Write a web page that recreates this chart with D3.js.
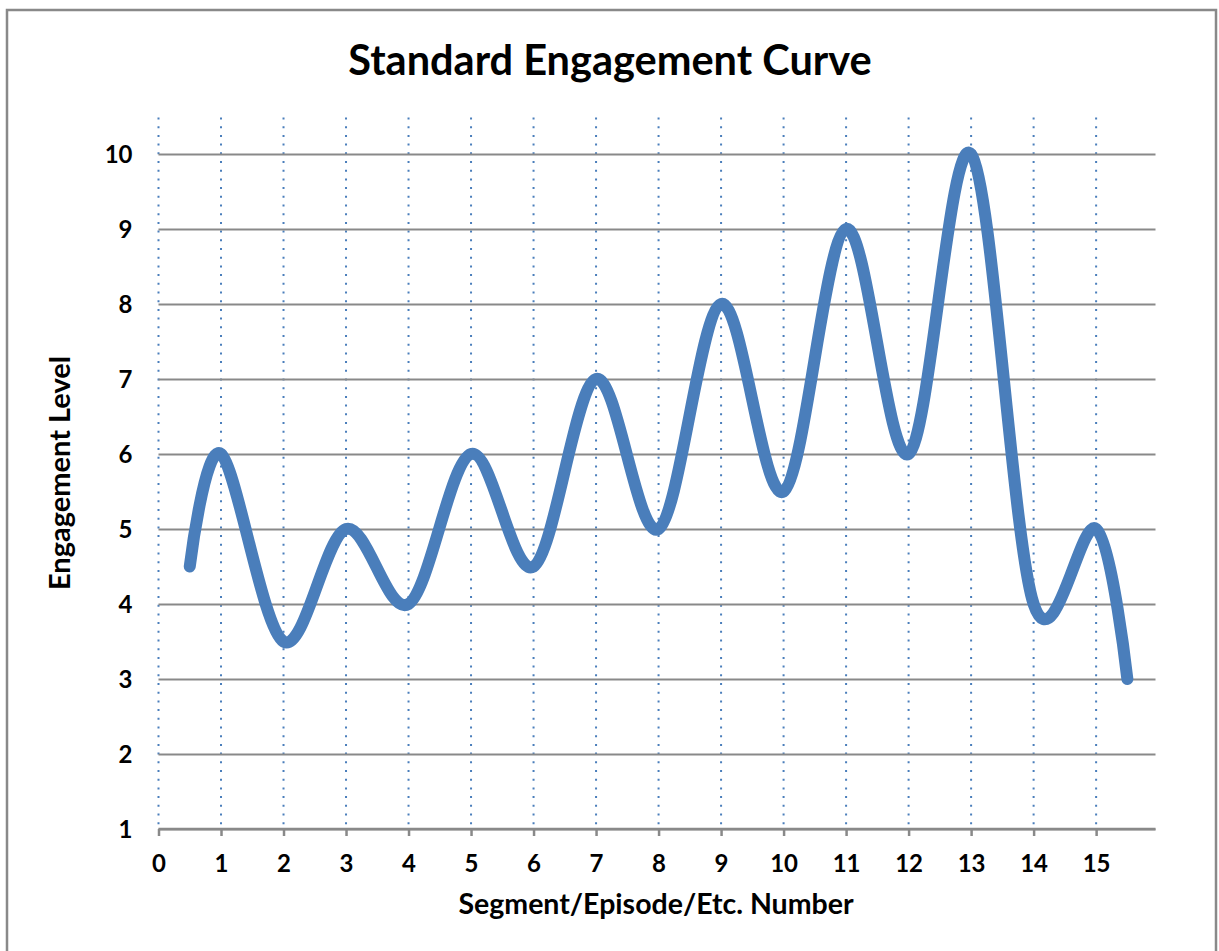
<!DOCTYPE html>
<meta charset="utf-8">
<style>
  body { margin: 0; background: #fff; }
  text { font-family: Lato, "Open Sans", sans-serif; font-weight: bold; fill: #000; }
  .axis path { display: none; }
  .grid line { stroke: #898989; stroke-width: 2; }
  .vgrid line { stroke: #4a7ebb; stroke-width: 2; stroke-dasharray: 2 6.7; }
</style>
<svg width="1219" height="951"></svg>
<script src="https://cdnjs.cloudflare.com/ajax/libs/d3/7.8.5/d3.min.js"></script>
<script>
  // data
  var segments = [0.5, 1, 2, 3, 4, 5, 6, 7, 8, 9, 10, 11, 12, 13, 14, 15, 15.5];
  var engagement = [4.5, 6, 3.5, 5, 4, 6, 4.5, 7, 5, 8, 5.5, 9, 6, 10, 4, 5, 3];
  var xTicks = [0, 1, 2, 3, 4, 5, 6, 7, 8, 9, 10, 11, 12, 13, 14, 15];
  var yTicks = [1, 2, 3, 4, 5, 6, 7, 8, 9, 10];

  var svg = d3.select("svg");

  // chart border
  svg.append("rect")
    .attr("x", 7).attr("y", 10)
    .attr("width", 1209).attr("height", 960)
    .attr("fill", "none")
    .attr("stroke", "#898989")
    .attr("stroke-width", 2.5);

  var x = d3.scaleLinear().domain([0, 15.95]).range([158.5, 1155.5]);
  var y = d3.scaleLinear().domain([1, 10.5]).range([829, 116.5]);

  // dotted vertical gridlines
  svg.append("g")
    .attr("class", "vgrid")
    .selectAll("line")
    .data(xTicks)
    .enter().append("line")
    .attr("x1", function(d) { return x(d); })
    .attr("x2", function(d) { return x(d); })
    .attr("y1", y(10.5) + 1)
    .attr("y2", y(1));

  // horizontal gridlines + y labels
  var yAxis = svg.append("g")
    .attr("class", "axis grid")
    .attr("transform", "translate(" + x(0) + ",0)")
    .call(d3.axisLeft(y)
      .tickValues(yTicks)
      .tickSize(-(x(15.95) - x(0)))
      .tickPadding(26)
      .tickFormat(d3.format("d")));
  yAxis.selectAll("text")
    .style("font-size", "24px")
    .attr("dy", "0.34em");

  // x axis
  var xAxis = svg.append("g")
    .attr("class", "axis xaxis")
    .attr("transform", "translate(0," + y(1) + ")")
    .call(d3.axisBottom(x)
      .tickValues(xTicks)
      .tickSize(7)
      .tickFormat(d3.format("d")));
  xAxis.selectAll("line").attr("stroke", "#898989").attr("stroke-width", 2.5);
  xAxis.selectAll("text")
    .style("font-size", "24px")
    .attr("y", 43)
    .attr("dy", null);
  xAxis.append("line")
    .attr("x1", x(0)).attr("x2", x(15.95))
    .attr("stroke", "#898989").attr("stroke-width", 2.5);

  // smoothed line (Excel-style smoothing)
  var line = d3.line()
    .x(function(d, i) { return x(segments[i]); })
    .y(function(d) { return y(d); })
    .curve(d3.curveCardinal.tension(0));

  svg.append("path")
    .datum(engagement)
    .attr("fill", "none")
    .attr("stroke", "#4a7ebb")
    .attr("stroke-width", 12)
    .attr("stroke-linecap", "round")
    .attr("stroke-linejoin", "round")
    .attr("d", line);

  // titles
  svg.append("text")
    .attr("x", 610).attr("y", 75)
    .attr("text-anchor", "middle")
    .style("font-size", "41.5px")
    .text("Standard Engagement Curve");

  svg.append("text")
    .attr("x", 656).attr("y", 914)
    .attr("text-anchor", "middle")
    .style("font-size", "28.5px")
    .text("Segment/Episode/Etc. Number");

  svg.append("text")
    .attr("transform", "translate(70,473) rotate(-90)")
    .attr("text-anchor", "middle")
    .style("font-size", "29px")
    .text("Engagement Level");
</script>
